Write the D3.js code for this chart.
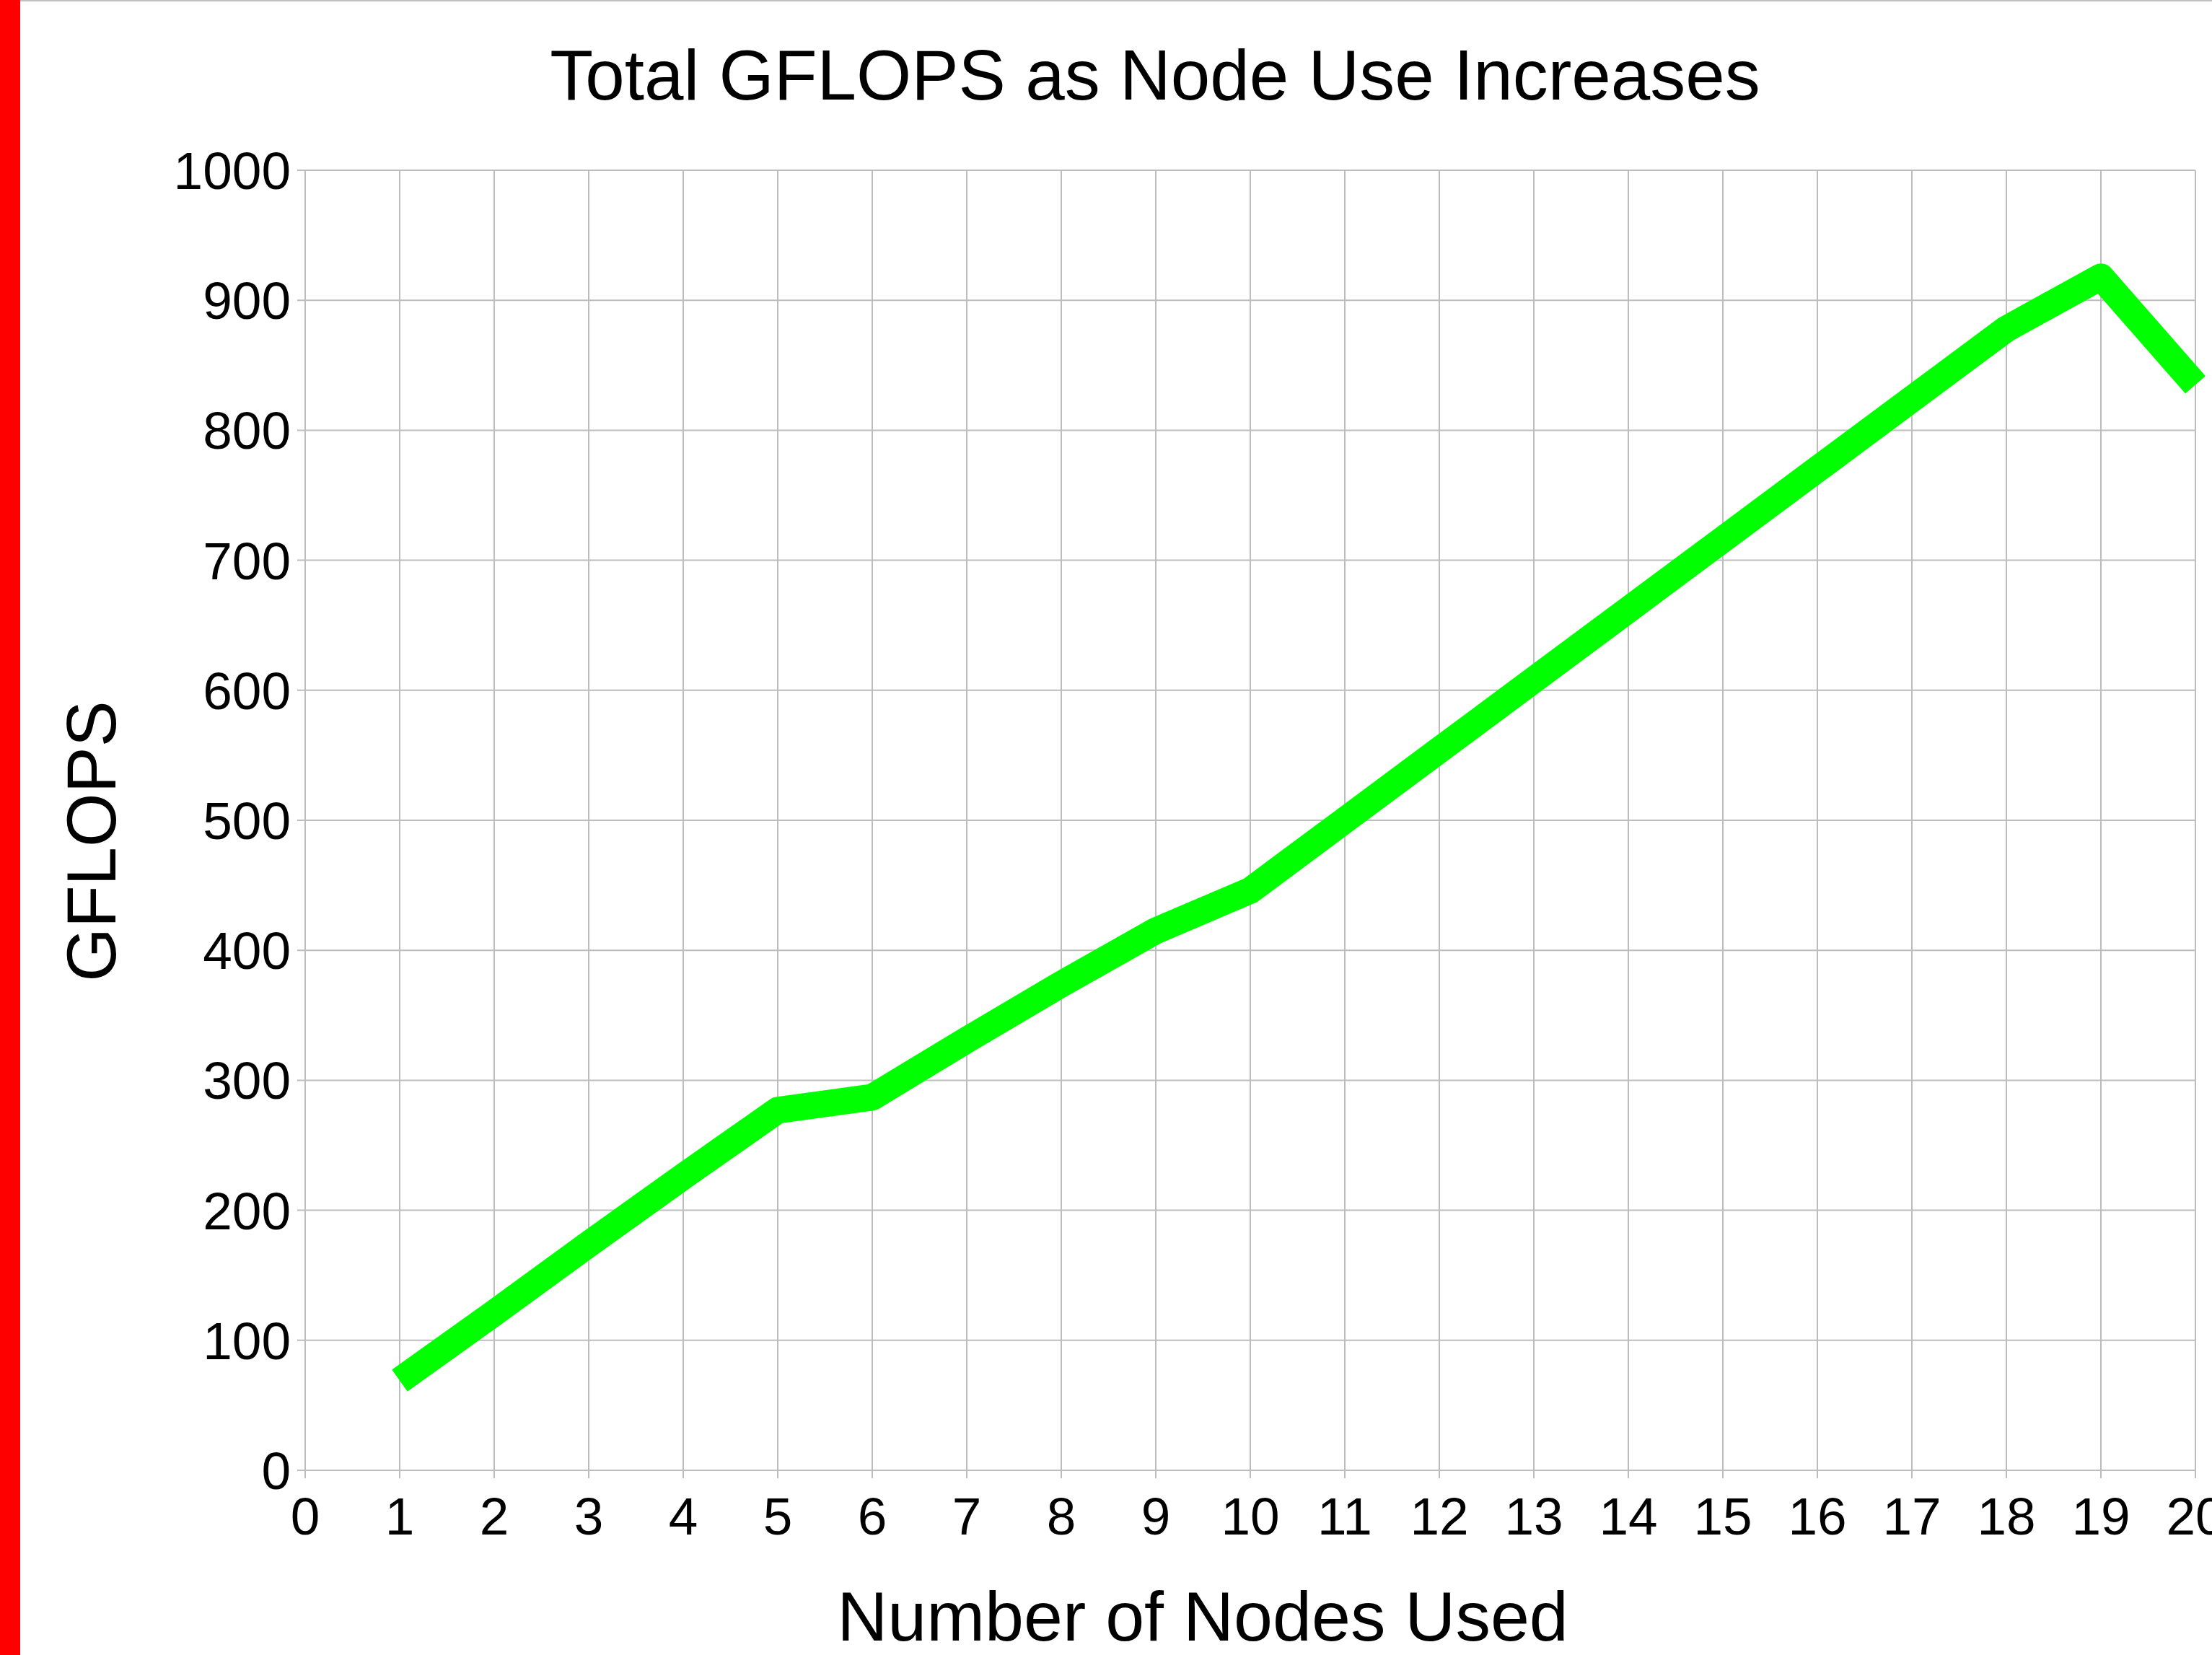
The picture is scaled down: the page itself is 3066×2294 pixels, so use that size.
<!DOCTYPE html>
<html lang="en">
<head>
    <meta charset="UTF-8">
    <title>Total GFLOPS as Node Use Increases</title>
    <style>
        body { margin: 0; background: #fff; }
        text { font-family: "Liberation Sans", Arial, sans-serif; fill: #000; }
    </style>
    <script src="https://d3js.org/d3.v7.min.js"></script>
</head>
<body>
<script>
// chart data
const nodes = [1, 2, 3, 4, 5, 6, 7, 8, 9, 10, 11, 12, 13, 14, 15, 16, 17, 18, 19, 20];
const gflops = [69, 121, 174, 226, 277, 287, 331, 374, 415, 446, 500, 554, 608, 662, 716, 770, 824, 878, 918, 835];
const xTicks = d3.range(0, 21);
const yTicks = [0, 100, 200, 300, 400, 500, 600, 700, 800, 900, 1000];

const W = 3066, H = 2294;
const plotLeft = 423, plotRight = 3043, plotTop = 236, plotBottom = 2038;

var svg = d3.select("body").append("svg")
    .attr("width", W)
    .attr("height", H);

// red strip on the left and thin frame line on top
svg.append("rect").attr("x", 0).attr("y", 0).attr("width", 28).attr("height", H).attr("fill", "#ff0000");
svg.append("line").attr("x1", 28).attr("x2", W).attr("y1", 1).attr("y2", 1)
    .attr("stroke", "#c0c0c0").attr("stroke-width", 2);

var x = d3.scaleLinear().domain([0, 20]).range([plotLeft, plotRight]);
var y = d3.scaleLinear().domain([0, 1000]).range([plotBottom, plotTop]);

// grid
svg.append("g").selectAll("line").data(yTicks).enter().append("line")
    .attr("x1", plotLeft - 11).attr("x2", plotRight)
    .attr("y1", d => y(d)).attr("y2", d => y(d))
    .attr("stroke", "#bdbdbd").attr("stroke-width", 2);

svg.append("g").selectAll("line").data(xTicks).enter().append("line")
    .attr("x1", d => x(d)).attr("x2", d => x(d))
    .attr("y1", plotTop).attr("y2", plotBottom + 11)
    .attr("stroke", "#bdbdbd").attr("stroke-width", 2);

// tick labels
svg.append("g").selectAll("text").data(yTicks).enter().append("text")
    .attr("x", plotLeft - 20)
    .attr("y", d => y(d) + 26)
    .attr("text-anchor", "end")
    .style("font-size", "73px")
    .text(d => d);

svg.append("g").selectAll("text").data(xTicks).enter().append("text")
    .attr("x", d => x(d))
    .attr("y", 2127)
    .attr("text-anchor", "middle")
    .style("font-size", "73px")
    .text(d => d);

// the series line
var line = d3.line()
    .x((d, i) => x(nodes[i]))
    .y(d => y(d));

svg.append("path")
    .datum(gflops)
    .attr("d", line)
    .attr("fill", "none")
    .attr("stroke", "#00ff00")
    .attr("stroke-width", 37)
    .attr("stroke-linejoin", "round")
    .attr("stroke-linecap", "butt");

// titles
svg.append("text")
    .attr("x", 1601).attr("y", 138)
    .attr("text-anchor", "middle")
    .style("font-size", "98px")
    .text("Total GFLOPS as Node Use Increases");

svg.append("text")
    .attr("x", 1667).attr("y", 2274)
    .attr("text-anchor", "middle")
    .style("font-size", "97px")
    .text("Number of Nodes Used");

svg.append("text")
    .attr("transform", "translate(160,1166) rotate(-90)")
    .attr("text-anchor", "middle")
    .style("font-size", "96px")
    .text("GFLOPS");
</script>
</body>
</html>
